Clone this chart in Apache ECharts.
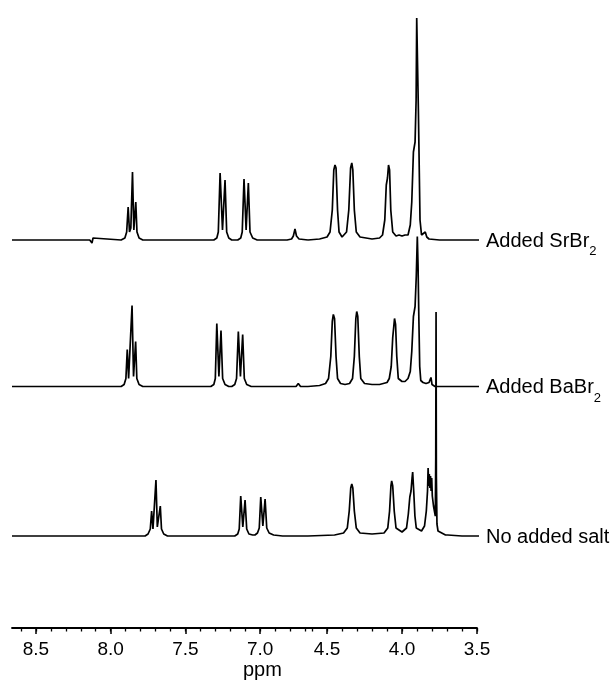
<!DOCTYPE html>
<html>
<head>
<meta charset="utf-8">
<script src="https://cdn.jsdelivr.net/npm/echarts@6/dist/echarts.min.js"></script>
<style>
  html, body { margin: 0; padding: 0; background: #fff; }
  #main { width: 615px; height: 683px; }
</style>
</head>
<body>
<div id="main"></div>
<script>
// 三条谱线的名称（右侧标注）
const traceNames = ['Added SrBr', 'Added BaBr', 'No added salt'];
const traceSubs = ['2', '2', ''];
// 每条谱线的基线高度（纵轴单位）
const baselines = [388, 241.5, 92];

// 刻度（ppm），左段 8.66-6.68，右段 4.63-3.47
const leftMajor = [8.5, 8.0, 7.5, 7.0];
const leftMinor = [8.6, 8.5, 8.4, 8.3, 8.2, 8.1, 8.0, 7.9, 7.8, 7.7, 7.6, 7.5, 7.4, 7.3, 7.2, 7.1, 7.0, 6.9, 6.8, 6.7];
const rightMajor = [4.5, 4.0, 3.5];
const rightMinor = [4.6, 4.5, 4.4, 4.3, 4.2, 4.1, 4.0, 3.9, 3.8, 3.7, 3.6, 3.5];

// [ppm, 强度]  —— Added SrBr2
const srLeft = [
  [8.66, 0], [8.14, 0], [8.125, -3], [8.118, 2], [8.11, 0],
  [7.93, 0], [7.905, 2], [7.893, 8], [7.883, 33], [7.874, 8], [7.865, 12], [7.854, 68], [7.845, 10], [7.838, 12], [7.832, 38], [7.824, 8], [7.81, 2], [7.785, 0],
  [7.31, 0], [7.29, 2], [7.28, 8], [7.268, 67], [7.252, 10], [7.235, 60], [7.224, 8], [7.21, 2], [7.19, 0],
  [7.15, 0], [7.13, 2], [7.12, 8], [7.108, 61], [7.094, 10], [7.079, 57], [7.068, 8], [7.05, 2], [7.02, 0],
  [6.82, 0], [6.79, 1], [6.778, 4], [6.767, 11], [6.757, 4], [6.74, 1], [6.68, 0]
];
const srRight = [
  [4.627, 0], [4.55, 1], [4.5, 3], [4.48, 8], [4.465, 30], [4.455, 70], [4.447, 75], [4.44, 72], [4.43, 30], [4.42, 8], [4.40, 3],
  [4.39, 3], [4.37, 8], [4.355, 30], [4.343, 72], [4.335, 77], [4.328, 70], [4.318, 30], [4.305, 8], [4.28, 3],
  [4.2, 1], [4.15, 2], [4.13, 5], [4.115, 20], [4.105, 55], [4.097, 62], [4.09, 75], [4.083, 70], [4.075, 30], [4.062, 8], [4.04, 4],
  [4.02, 5], [4.0, 4], [3.98, 5], [3.96, 5], [3.945, 15], [3.935, 38], [3.924, 88], [3.913, 98], [3.906, 140], [3.902, 222],
  [3.897, 180], [3.891, 131], [3.886, 80], [3.88, 20], [3.87, 5], [3.86, 3], [3.845, 8], [3.835, 3], [3.82, 1], [3.75, 0], [3.6, 0], [3.467, 0]
];

// Added BaBr2
const baLeft = [
  [8.66, 0], [7.93, 0], [7.91, 2], [7.898, 8], [7.889, 37], [7.88, 8], [7.868, 10], [7.857, 81], [7.847, 10], [7.84, 12], [7.833, 45], [7.825, 8], [7.81, 2], [7.785, 0],
  [7.33, 0], [7.31, 2], [7.3, 8], [7.29, 63], [7.276, 10], [7.262, 56], [7.251, 8], [7.235, 2], [7.21, 0],
  [7.19, 0], [7.17, 2], [7.158, 8], [7.146, 55], [7.132, 10], [7.117, 52], [7.106, 8], [7.09, 2], [7.06, 0],
  [6.76, 0], [6.745, 3], [6.73, 0], [6.68, 0]
];
const baRight = [
  [4.627, 0], [4.55, 1], [4.51, 3], [4.49, 8], [4.475, 30], [4.465, 65], [4.458, 72], [4.45, 68], [4.44, 30], [4.43, 8], [4.41, 3],
  [4.38, 2], [4.35, 3], [4.33, 8], [4.318, 30], [4.308, 68], [4.302, 75], [4.295, 70], [4.285, 30], [4.275, 8], [4.25, 3],
  [4.2, 2], [4.15, 2], [4.1, 4], [4.085, 8], [4.072, 20], [4.062, 49], [4.055, 60], [4.05, 68], [4.043, 62], [4.035, 30], [4.025, 8],
  [4.0, 5], [3.98, 5], [3.96, 8], [3.945, 15], [3.935, 35], [3.924, 70], [3.913, 80], [3.905, 110], [3.898, 150],
  [3.893, 120], [3.888, 70], [3.882, 20], [3.875, 6], [3.86, 4], [3.84, 3], [3.82, 4], [3.807, 9], [3.8, 2], [3.78, 0], [3.6, 0], [3.467, 0]
];

// No added salt
const noLeft = [
  [8.66, 0], [7.77, 0], [7.75, 2], [7.735, 7], [7.726, 25], [7.717, 7], [7.707, 9], [7.697, 56], [7.688, 9], [7.678, 8], [7.668, 30], [7.66, 7], [7.645, 2], [7.62, 0],
  [7.17, 0], [7.15, 2], [7.14, 7], [7.13, 40], [7.116, 9], [7.101, 36], [7.09, 7], [7.075, 2], [7.05, 1],
  [7.035, 1], [7.018, 3], [7.006, 8], [6.996, 39], [6.982, 10], [6.967, 37], [6.956, 8], [6.94, 3], [6.91, 1], [6.85, 0], [6.68, 0]
];
const noRight = [
  [4.627, 0], [4.45, 1], [4.39, 3], [4.365, 8], [4.352, 25], [4.342, 48], [4.335, 52], [4.328, 48], [4.318, 25], [4.305, 8], [4.28, 3],
  [4.2, 2], [4.12, 3], [4.095, 8], [4.083, 25], [4.074, 50], [4.069, 55], [4.062, 50], [4.052, 25], [4.04, 8], [4.0, 4], [3.99, 3],
  [3.97, 8], [3.958, 22], [3.948, 39], [3.94, 45], [3.933, 58], [3.929, 64], [3.922, 45], [3.914, 20], [3.905, 8], [3.87, 5],
  [3.85, 10], [3.838, 25], [3.83, 45], [3.826, 68], [3.822, 50], [3.818, 62], [3.814, 48], [3.81, 60], [3.806, 45], [3.802, 58], [3.798, 40], [3.79, 30],
  [3.778, 20], [3.775, 80], [3.773, 224], [3.771, 60], [3.767, 12], [3.76, 5], [3.75, 3], [3.71, 1], [3.702, 3], [3.695, 1], [3.6, 0], [3.467, 0]
];

const leftData = [srLeft, baLeft, noLeft];
const rightData = [srRight, baRight, noRight];

const FONT = '"Liberation Sans", Arial, Helvetica, sans-serif';

function shift(arr, base) {
  return arr.map(d => [d[0], d[1] + base]);
}

function xAxes(grid, min, max, major, minor) {
  return [{
    type: 'value', gridIndex: grid, position: 'bottom', inverse: true, min: min, max: max,
    axisLine: { show: true, onZero: false, lineStyle: { color: '#000', width: 1.8 } },
    axisTick: { show: true, length: 6, customValues: major, lineStyle: { color: '#000', width: 1.5 } },
    axisLabel: { show: true, customValues: major, margin: 12, color: '#000', fontSize: 19, fontFamily: FONT,
      formatter: v => v.toFixed(1) },
    splitLine: { show: false }
  }, {
    type: 'value', gridIndex: grid, position: 'bottom', inverse: true, min: min, max: max,
    axisLine: { show: false },
    axisTick: { show: true, length: 3.5, customValues: minor, lineStyle: { color: '#000', width: 1.3 } },
    axisLabel: { show: false },
    splitLine: { show: false }
  }];
}

const series = [];
for (let i = 0; i < 3; i++) {
  series.push({
    type: 'line', xAxisIndex: 0, yAxisIndex: 0, data: shift(leftData[i], baselines[i]),
    showSymbol: false, symbol: 'none', lineStyle: { color: '#000', width: 1.7 }, silent: true
  });
  series.push({
    type: 'line', xAxisIndex: 2, yAxisIndex: 1, data: shift(rightData[i], baselines[i]),
    showSymbol: false, symbol: 'none', clip: false, lineStyle: { color: '#000', width: 1.7 }, silent: true
  });
}

const myChart = echarts.init(document.getElementById('main'));
myChart.setOption({
  backgroundColor: '#fff',
  animation: false,
  grid: [
    { left: 12, width: 296, top: 10, bottom: 55, outerBoundsMode: 'none', containLabel: false },
    { left: 308, width: 169, top: 10, bottom: 55, outerBoundsMode: 'none', containLabel: false }
  ],
  xAxis: [].concat(xAxes(0, 6.68, 8.66, leftMajor, leftMinor), xAxes(1, 3.5, 4.627, rightMajor, rightMinor)),
  yAxis: [
    { type: 'value', gridIndex: 0, min: 0, max: 618, show: false },
    { type: 'value', gridIndex: 1, min: 0, max: 618, show: false }
  ],
  series: series
});

// 右侧标注：放在每条谱线末端之后
const graphics = [{
  type: 'text', left: 243, top: 660,
  style: { text: 'ppm', fill: '#000', font: '20px ' + FONT }
}];
for (let i = 0; i < 3; i++) {
  const last = rightData[i][rightData[i].length - 1];
  const p = myChart.convertToPixel({ xAxisIndex: 2, yAxisIndex: 1 }, [last[0], last[1] + baselines[i]]);
  graphics.push({
    type: 'text', x: p[0] + 4, y: p[1],
    style: {
      text: traceSubs[i] ? '{a|' + traceNames[i] + '}{s|' + traceSubs[i] + '}' : '{a|' + traceNames[i] + '}',
      verticalAlign: 'middle', align: 'left', fill: '#000',
      rich: {
        a: { fontSize: 20, fontFamily: FONT, fill: '#000', lineHeight: 22, verticalAlign: 'bottom' },
        s: { fontSize: 13, fontFamily: FONT, fill: '#000', lineHeight: 22, verticalAlign: 'bottom', padding: [0, 0, -7, 0] }
      }
    }
  });
}
myChart.setOption({ graphic: graphics });
</script>
</body>
</html>
